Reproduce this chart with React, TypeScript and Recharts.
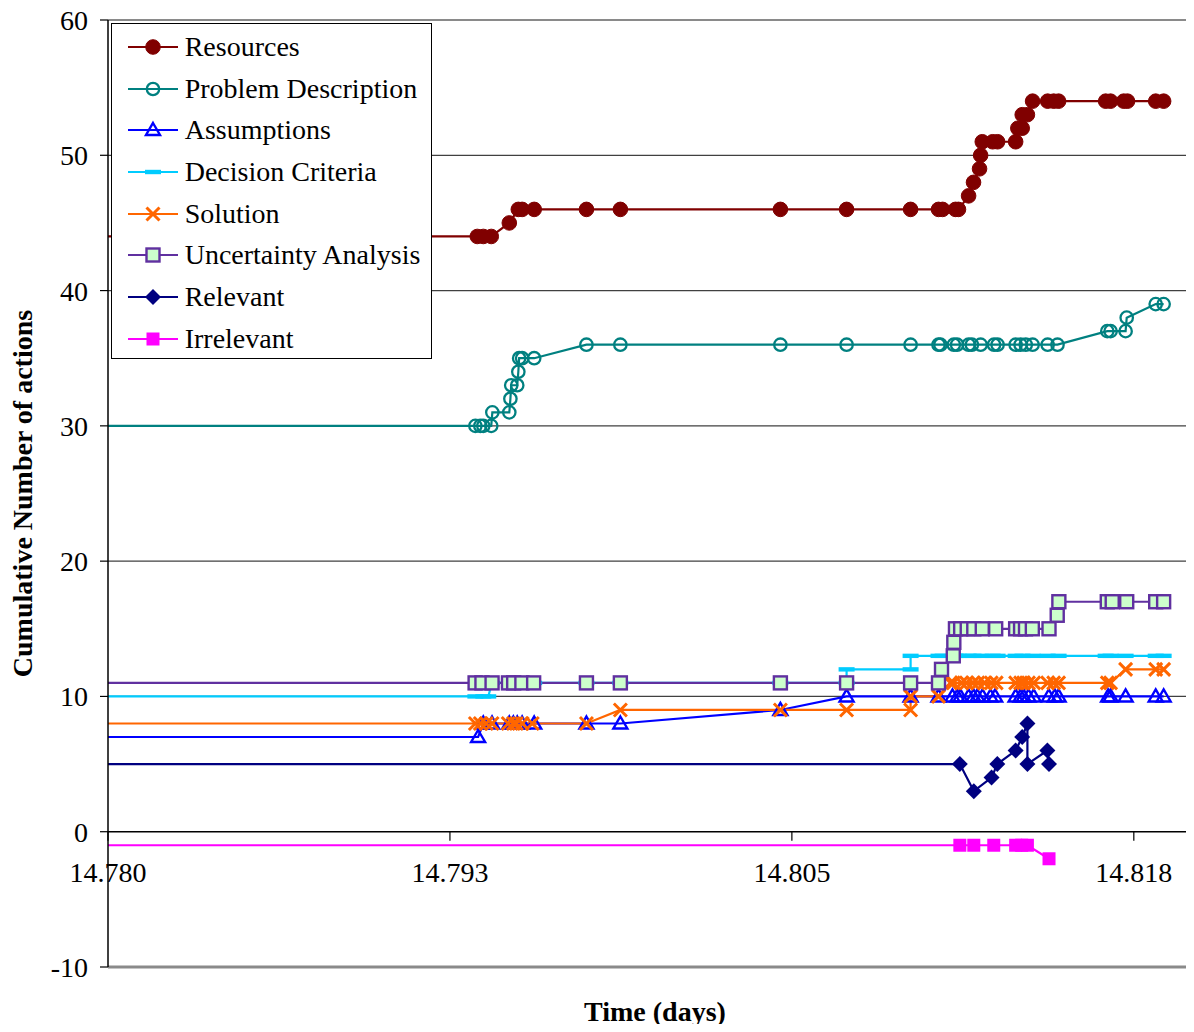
import React from 'react';
import { LineChart, Line, XAxis, YAxis, ReferenceLine, ReferenceDot, Legend } from 'recharts';

const FONT = '"Liberation Serif", "Times New Roman", Times, serif';
const FS = 28;

const xTicks = [14.78, 14.7925, 14.805, 14.8175];
const xTickLabels = ['14.780', '14.793', '14.805', '14.818'];
const yTicks = [-10, 0, 10, 20, 30, 40, 50, 60];
const gridValues = [10, 20, 30, 40, 50];

const resources: [number, number][] = [
  [14.78, 44], [14.7935, 44], [14.79372, 44], [14.79401, 44], [14.79467, 45], [14.795, 46], [14.79514, 46],
  [14.79558, 46], [14.79749, 46], [14.79873, 46], [14.80458, 46], [14.807, 46], [14.80934, 46], [14.81036, 46],
  [14.81051, 46], [14.81098, 46], [14.81109, 46], [14.81146, 47], [14.81164, 48], [14.81186, 49], [14.8119, 50],
  [14.81196, 51], [14.81234, 51], [14.81252, 51], [14.81318, 51], [14.81326, 52], [14.81342, 52], [14.81342, 53],
  [14.81361, 53], [14.8138, 54], [14.81435, 54], [14.81457, 54], [14.81475, 54], [14.81647, 54], [14.81665, 54],
  [14.81713, 54], [14.81727, 54], [14.8183, 54], [14.81859, 54],
];

const problemDescription: [number, number][] = [
  [14.78, 30], [14.79343, 30], [14.79361, 30], [14.79372, 30], [14.79401, 30], [14.79405, 31], [14.79467, 31],
  [14.79471, 32], [14.79474, 33], [14.79496, 33], [14.795, 34], [14.79503, 35], [14.79514, 35], [14.79558, 35],
  [14.79749, 36], [14.79873, 36], [14.80458, 36], [14.807, 36], [14.80934, 36], [14.81036, 36], [14.81043, 36],
  [14.81092, 36], [14.81104, 36], [14.81146, 36], [14.81158, 36], [14.8119, 36], [14.81239, 36], [14.81252, 36],
  [14.81318, 36], [14.81336, 36], [14.81355, 36], [14.8138, 36], [14.81435, 36], [14.81471, 36], [14.81653, 37],
  [14.81665, 37], [14.8172, 37], [14.81724, 38], [14.8183, 39], [14.81859, 39],
];

const assumptions: [number, number][] = [
  [14.78, 7], [14.79353, 7], [14.79372, 8], [14.79404, 8], [14.79467, 8], [14.79482, 8], [14.79496, 8],
  [14.79514, 8], [14.79558, 8], [14.79749, 8], [14.79873, 8], [14.80458, 9], [14.807, 10], [14.80934, 10],
  [14.81036, 10], [14.81087, 10], [14.81105, 10], [14.81116, 10], [14.81146, 10], [14.81164, 10], [14.81178, 10],
  [14.81197, 10], [14.81226, 10], [14.81243, 10], [14.81318, 10], [14.81336, 10], [14.81347, 10], [14.81365, 10],
  [14.81384, 10], [14.81439, 10], [14.81461, 10], [14.81475, 10], [14.81656, 10], [14.81665, 10], [14.8172, 10],
  [14.8183, 10], [14.81859, 10],
];

const decisionCriteria: [number, number][] = [
  [14.78, 10], [14.79343, 10], [14.79372, 10], [14.7939, 10], [14.79404, 11], [14.79558, 11], [14.79749, 11],
  [14.79873, 11], [14.80458, 11], [14.807, 11], [14.807, 12], [14.80934, 12], [14.80934, 13], [14.81036, 13],
  [14.81051, 13], [14.81098, 13], [14.81109, 13], [14.81146, 13], [14.81164, 13], [14.81193, 13], [14.81234, 13],
  [14.81252, 13], [14.81318, 13], [14.81343, 13], [14.8138, 13], [14.81435, 13], [14.81475, 13], [14.81647, 13],
  [14.81665, 13], [14.8172, 13], [14.8183, 13], [14.81859, 13],
];

const solution: [number, number][] = [
  [14.78, 8], [14.79343, 8], [14.79361, 8], [14.79383, 8], [14.79404, 8], [14.79463, 8], [14.79482, 8],
  [14.79493, 8], [14.79514, 8], [14.79551, 8], [14.79749, 8], [14.79873, 9], [14.80458, 9], [14.807, 9],
  [14.80934, 9], [14.80934, 10], [14.81036, 10], [14.8108, 11], [14.8109, 11], [14.8112, 11], [14.81138, 11],
  [14.81162, 11], [14.8118, 11], [14.81204, 11], [14.81229, 11], [14.81247, 11], [14.81318, 11], [14.81336, 11],
  [14.81347, 11], [14.81365, 11], [14.81384, 11], [14.81435, 11], [14.81457, 11], [14.81475, 11], [14.81653, 11],
  [14.81665, 11], [14.8172, 12], [14.8183, 12], [14.81859, 12],
];

const uncertainty: [number, number][] = [
  [14.78, 11], [14.79342, 11], [14.79367, 11], [14.79404, 11], [14.79464, 11], [14.79483, 11], [14.79513, 11],
  [14.79556, 11], [14.79749, 11], [14.79873, 11], [14.80458, 11], [14.807, 11], [14.80934, 11], [14.81036, 11],
  [14.81047, 12], [14.8109, 13], [14.81092, 14], [14.81098, 15], [14.81117, 15], [14.81141, 15], [14.81165, 15],
  [14.81196, 15], [14.81245, 15], [14.81318, 15], [14.81336, 15], [14.81354, 15], [14.81379, 15], [14.8144, 15],
  [14.8147, 16], [14.81476, 17], [14.81653, 17], [14.81671, 17], [14.81724, 17], [14.8183, 17], [14.81859, 17],
];

const relevant: [number, number][] = [
  [14.78, 5], [14.81114, 5], [14.81165, 3], [14.8123, 4], [14.81251, 5], [14.81318, 6], [14.81342, 7],
  [14.81361, 8], [14.81361, 5], [14.81434, 6], [14.8144, 5],
];

const irrelevant: [number, number][] = [
  [14.78, -1], [14.81114, -1], [14.81165, -1], [14.81238, -1], [14.81318, -1], [14.8134, -1], [14.81361, -1],
  [14.8144, -2],
];

type Kind = 'disc' | 'ring' | 'triangle' | 'dash' | 'cross' | 'box' | 'diamond' | 'square';

const series: { name: string; data: [number, number][]; color: string; kind: Kind }[] = [
  { name: 'Resources', data: resources, color: '#800000', kind: 'disc' },
  { name: 'Problem Description', data: problemDescription, color: '#008080', kind: 'ring' },
  { name: 'Assumptions', data: assumptions, color: '#0000FF', kind: 'triangle' },
  { name: 'Decision Criteria', data: decisionCriteria, color: '#00CCFF', kind: 'dash' },
  { name: 'Solution', data: solution, color: '#FF6600', kind: 'cross' },
  { name: 'Uncertainty Analysis', data: uncertainty, color: '#6030A0', kind: 'box' },
  { name: 'Relevant', data: relevant, color: '#000080', kind: 'diamond' },
  { name: 'Irrelevant', data: irrelevant, color: '#FF00FF', kind: 'square' },
];

function Marker({ kind, color, cx, cy }: { kind: Kind; color: string; cx: number; cy: number }) {
  switch (kind) {
    case 'disc':
      return <circle cx={cx} cy={cy} r={7.3} fill={color} stroke={color} strokeWidth={1} />;
    case 'ring':
      return <circle cx={cx} cy={cy} r={6.2} fill="none" stroke={color} strokeWidth={2.3} />;
    case 'triangle':
      return (
        <polygon
          points={`${cx},${cy - 7} ${cx + 7},${cy + 5} ${cx - 7},${cy + 5}`}
          fill="none"
          stroke={color}
          strokeWidth={2.4}
        />
      );
    case 'dash':
      return <rect x={cx - 8} y={cy - 2.2} width={16} height={4.4} fill={color} />;
    case 'cross':
      return (
        <path
          d={`M${cx - 6.5},${cy - 6.5}L${cx + 6.5},${cy + 6.5}M${cx + 6.5},${cy - 6.5}L${cx - 6.5},${cy + 6.5}`}
          stroke={color}
          strokeWidth={3}
          fill="none"
        />
      );
    case 'box':
      return <rect x={cx - 6.5} y={cy - 6.5} width={13} height={13} fill="#CCFFCC" stroke={color} strokeWidth={2.4} />;
    case 'diamond':
      return <polygon points={`${cx},${cy - 8} ${cx + 8},${cy} ${cx},${cy + 8} ${cx - 8},${cy}`} fill={color} />;
    case 'square':
    default:
      return <rect x={cx - 6.5} y={cy - 6.5} width={13} height={13} fill={color} />;
  }
}

function makeDot(kind: Kind, color: string) {
  return (p: any) => {
    const key = `d${p.index}`;
    if (p.index === 0 || p.cx == null || p.cy == null) return <g key={key} />;
    return (
      <g key={key}>
        <Marker kind={kind} color={color} cx={p.cx} cy={p.cy} />
      </g>
    );
  };
}

function LegendBox() {
  return (
    <div
      style={{
        width: 321,
        height: 336,
        boxSizing: 'border-box',
        border: '1px solid #000',
        background: '#fff',
        paddingTop: 2,
        fontFamily: FONT,
        fontSize: FS,
        color: '#000',
      }}
    >
      {series.map((s) => (
        <div key={s.name} style={{ display: 'flex', alignItems: 'center', height: 41.7, paddingLeft: 15.7 }}>
          <svg width={51} height={22} style={{ display: 'block', overflow: 'visible' }}>
            <line x1={0} y1={11} x2={50} y2={11} stroke={s.color} strokeWidth={2.2} />
            <Marker kind={s.kind} color={s.color} cx={25} cy={11} />
          </svg>
          <span style={{ marginLeft: 6, lineHeight: 1, whiteSpace: 'nowrap' }}>{s.name}</span>
        </div>
      ))}
    </div>
  );
}

function XTick({ cx, cy, label }: { cx: number; cy: number; label: string }) {
  return (
    <g>
      <line x1={cx} y1={cy} x2={cx} y2={cy + 9} stroke="#000" strokeWidth={1.2} />
      <text x={cx} y={cy + 50} textAnchor="middle" fontFamily={FONT} fontSize={FS} fill="#000">
        {label}
      </text>
    </g>
  );
}

export default function App() {
  return (
    <div style={{ marginTop: -8, marginBottom: -8, marginLeft: -8, width: 1194, height: 1032 }}>
      <LineChart width={1194} height={1032} margin={{ top: 20, right: 0, bottom: 0, left: 8 }}>
        <XAxis
          type="number"
          dataKey="t"
          domain={[14.78, 14.8197]}
          allowDataOverflow
          height={65}
          axisLine={false}
          tickLine={false}
          tick={false}
          label={{
            content: (props: any) => {
              const vb = props.viewBox || {};
              return (
                <text
                  x={(vb.x ?? 108) + (vb.width ?? 1086) / 2 + 4}
                  y={(vb.y ?? 967) + 54}
                  textAnchor="middle"
                  fontFamily={FONT}
                  fontSize={FS}
                  fontWeight="bold"
                  fill="#000"
                >
                  Time (days)
                </text>
              );
            },
          }}
        />
        <YAxis
          type="number"
          domain={[-10, 60]}
          ticks={yTicks}
          interval={0}
          allowDataOverflow
          width={100}
          tickSize={8}
          tickMargin={12}
          axisLine={{ stroke: '#000', strokeWidth: 1.5 }}
          tickLine={{ stroke: '#000', strokeWidth: 1.2 }}
          tick={{ fill: '#000', fontSize: FS, fontFamily: FONT }}
          label={{
            content: (props: any) => {
              const vb = props.viewBox || {};
              const cy = (vb.y ?? 20) + (vb.height ?? 947) / 2;
              const x = 32;
              return (
                <text
                  x={x}
                  y={cy}
                  transform={`rotate(-90, ${x}, ${cy})`}
                  textAnchor="middle"
                  fontFamily={FONT}
                  fontSize={FS}
                  fontWeight="bold"
                  fill="#000"
                >
                  Cumulative Number of actions
                </text>
              );
            },
          }}
        />
        {gridValues.map((g) => (
          <ReferenceLine key={`g${g}`} y={g} stroke="#404040" strokeWidth={1.2} />
        ))}
        <ReferenceLine y={60} stroke="#8a8a8a" strokeWidth={2} />
        <ReferenceLine y={-10} stroke="#8a8a8a" strokeWidth={3} />
        <ReferenceLine y={0} stroke="#000" strokeWidth={1.5} />
        {xTicks.map((t, i) => (
          <ReferenceDot
            key={`xt${t}`}
            x={t}
            y={0}
            r={0}
            ifOverflow="visible"
            shape={(p: any) => <XTick cx={p.cx} cy={p.cy} label={xTickLabels[i]} />}
          />
        ))}
        {series.map((s) => (
          <Line
            key={s.name}
            name={s.name}
            data={s.data.map(([t, v]) => ({ t, v }))}
            dataKey="v"
            type="linear"
            stroke={s.color}
            strokeWidth={2.2}
            dot={makeDot(s.kind, s.color)}
            activeDot={false}
            isAnimationActive={false}
          />
        ))}
        <Legend
          layout="vertical"
          align="center"
          verticalAlign="middle"
          wrapperStyle={{ left: 111, top: 23, width: 321, height: 336 }}
          content={() => <LegendBox />}
        />
      </LineChart>
    </div>
  );
}
